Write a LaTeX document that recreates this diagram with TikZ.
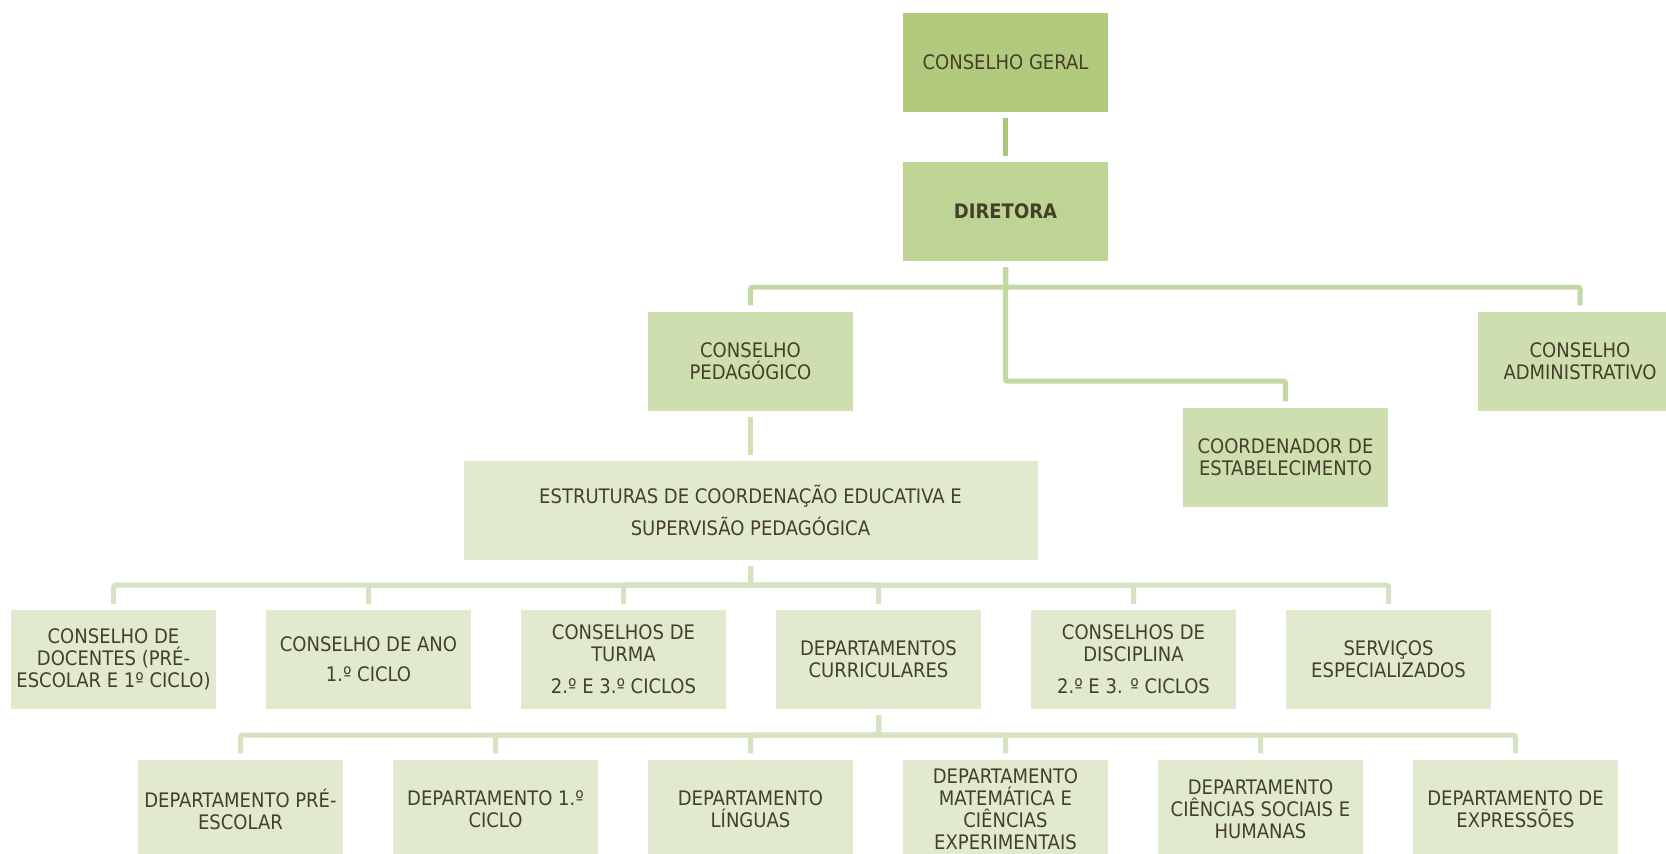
\documentclass[tikz,border=0pt]{standalone}
\usepackage{fontspec}
\setmainfont{DejaVu Sans Condensed}
\usepackage{tikz}
\definecolor{fillgeral}{HTML}{B2CA7E}
\definecolor{filldir}{HTML}{BED495}
\definecolor{fillmid}{HTML}{CEDEAE}
\definecolor{filllow}{HTML}{E1EACF}
\definecolor{linegeral}{HTML}{AAC57C}
\definecolor{linedir}{HTML}{C4D8A3}
\definecolor{lineped}{HTML}{D0E0B3}
\definecolor{linelow}{HTML}{D6E3C3}
\definecolor{boxtext}{HTML}{463F2A}
\tikzset{
  orgbox/.style={rectangle,inner sep=0pt,minimum width=205pt,minimum height=99pt,align=center,text=boxtext,font=\fontsize{20}{22}\selectfont},
  topbox/.style={orgbox,fill=fillgeral},
  dirbox/.style={orgbox,fill=filldir,font=\fontsize{20}{22}\selectfont\bfseries},
  midbox/.style={orgbox,fill=fillmid},
  lowbox/.style={orgbox,fill=filllow},
  link/.style={line width=5pt,shorten <=6pt,shorten >=6pt,rounded corners=2pt},
}

\begin{document}
\begin{tikzpicture}[x=1pt,y=-1pt]
  \useasboundingbox (0,0) rectangle (1666,854);

  \node[topbox] (geral) at (1005.5,62) {CONSELHO GERAL};
  \node[dirbox] (diretora) at (1005.5,211.5) {DIRETORA};
  \node[midbox] (pedagogico) at (750.5,361) {CONSELHO\\PEDAGÓGICO};
  \node[midbox] (administrativo) at (1580,361) {CONSELHO\\ADMINISTRATIVO};
  \node[midbox] (coordenador) at (1285.5,457) {COORDENADOR DE\\ESTABELECIMENTO};
  \node[lowbox,minimum width=574pt] (estruturas) at (750.5,510.5) {ESTRUTURAS DE COORDENAÇÃO EDUCATIVA E\\[8pt]SUPERVISÃO PEDAGÓGICA};

  % conselhos e servicos
  \foreach \name/\xpos/\txt in {
      docentes/113.5/{CONSELHO DE\\DOCENTES (PRÉ-\\ESCOLAR E 1º CICLO)},
      ano/368.5/{CONSELHO DE ANO\\[8pt]1.º CICLO},
      turma/623.5/{CONSELHOS DE\\TURMA\\[10pt]2.º E 3.º CICLOS},
      curriculares/878.5/{DEPARTAMENTOS\\CURRICULARES},
      disciplina/1133.5/{CONSELHOS DE\\DISCIPLINA\\[10pt]2.º E 3. º CICLOS},
      servicos/1388.5/{SERVIÇOS\\ESPECIALIZADOS}} {
    \node[lowbox] (\name) at (\xpos,659.5) {\txt};
  }

  % departamentos
  \foreach \name/\xpos/\txt in {
      depre/240.5/{DEPARTAMENTO PRÉ-\\ESCOLAR},
      depciclo/495.5/{DEPARTAMENTO 1.º\\CICLO},
      deplinguas/750.5/{DEPARTAMENTO\\LÍNGUAS},
      depmat/1005.5/{DEPARTAMENTO\\MATEMÁTICA E\\CIÊNCIAS\\EXPERIMENTAIS},
      depsociais/1260.5/{DEPARTAMENTO\\CIÊNCIAS SOCIAIS E\\HUMANAS},
      depexp/1515.5/{DEPARTAMENTO DE\\EXPRESSÕES}} {
    \node[lowbox] (\name) at (\xpos,809) {\txt};
  }

  \draw[link,draw=linegeral] (geral) -- (diretora);
  \draw[link,draw=linedir] (diretora.south) -- ++(0,26) -| (pedagogico.north);
  \draw[link,draw=linedir] (diretora.south) -- ++(0,26) -| (administrativo.north);
  \draw[link,draw=linedir] (diretora.south) -- ++(0,120) -| (coordenador.north);
  \draw[link,draw=lineped] (pedagogico) -- (estruturas);

  \foreach \child in {docentes,ano,turma,curriculares,disciplina,servicos} {
    \draw[link,draw=linelow] (estruturas.south) -- ++(0,25) -| (\child.north);
  }
  \foreach \child in {depre,depciclo,deplinguas,depmat,depsociais,depexp} {
    \draw[link,draw=linelow] (curriculares.south) -- ++(0,26) -| (\child.north);
  }
\end{tikzpicture}
\end{document}
